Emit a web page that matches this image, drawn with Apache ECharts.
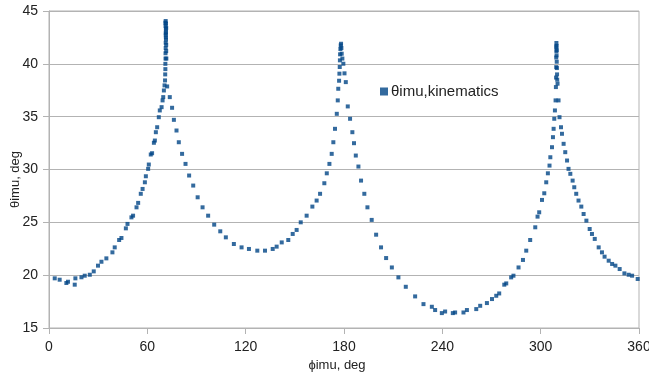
<!DOCTYPE html>
<html>
<head>
<meta charset="utf-8">
<script src="https://cdn.jsdelivr.net/npm/echarts@6/dist/echarts.min.js"></script>
<style>
  html, body { margin: 0; padding: 0; background: #fff; }
  #chart { width: 649px; height: 375px; }
</style>
</head>
<body>
<div id="chart"></div>
<script>
// phi (deg) and theta (deg), in path order
const phi = [
  3.5, 6.5, 10.6, 11.6, 15.7, 16.1, 19.8, 21.8, 24.9, 27.3, 29.9, 32.0, 35.0, 38.7, 40.1,
  42.8, 44.2, 46.9, 47.9, 50.3, 51.3, 53.4, 54.4, 56.0, 57.1, 58.5, 59.1, 60.5, 60.9, 62.1,
  62.9, 64.0, 64.6, 65.2, 66.0, 67.0, 67.6, 68.7, 69.3, 69.7, 70.1, 70.5, 70.8,
  70.9, 71.0, 71.0, 71.1, 71.1, 71.2, 71.2, 71.3, 71.2, 71.3, 71.1, 71.0, 71.2, 71.4, 71.5,
  71.4, 71.3, 71.4, 71.5, 71.5, 71.6,
  72.1, 73.7, 75.1, 76.2, 77.8, 79.2, 81.2, 83.3, 85.5, 88.0, 90.7, 93.7, 97.1, 100.8,
  104.5, 107.9, 112.8, 117.5, 122.0, 127.1, 131.8, 136.5, 138.9, 142.0, 146.0, 148.7,
  151.1, 153.6, 157.2, 160.7, 163.3, 165.4, 168.0, 169.5, 171.1, 172.5, 173.5, 174.5,
  175.6, 176.2, 176.5, 177.0, 177.2, 177.4, 177.5, 177.6, 177.8, 178.0, 178.2, 178.4,
  178.6, 179.0, 179.6, 180.3, 181.1, 182.3, 183.7, 185.1, 186.1, 187.2, 188.8, 190.4,
  192.4, 194.3, 196.9, 199.6, 202.6, 205.7, 209.2, 213.2, 217.7, 223.4, 228.5, 233.6,
  235.6, 239.7, 241.7, 246.4, 247.8, 252.9, 255.0, 260.7, 263.1, 267.2, 270.3, 272.9,
  274.7, 277.8, 279.0, 282.0, 283.4, 286.5, 289.2, 291.2, 293.6, 296.7, 298.1, 299.1,
  300.8, 302.2, 303.4, 304.4, 305.4, 305.9, 306.9, 307.5, 307.9, 308.3, 308.7, 309.1,
  309.3, 309.4, 309.5, 309.5, 309.6, 309.5, 309.6, 309.7, 309.8, 309.7, 309.8, 309.9,
  310.0, 310.1, 310.3, 310.9, 311.5, 312.4, 313.0, 314.0, 315.0, 316.1, 317.0, 318.1,
  319.5, 320.5, 321.7, 323.1, 324.8, 326.2, 327.9, 329.9, 331.3, 333.0, 335.4, 337.4,
  339.0, 341.5, 343.6, 345.6, 348.2, 351.1, 353.7, 355.8, 359.2
];
const theta = [
  19.7, 19.57, 19.26, 19.38, 19.1, 19.7, 19.8, 19.95, 20.04, 20.36, 20.9, 21.27, 21.59, 22.16, 22.63,
  23.33, 23.52, 24.43, 24.85, 25.47, 25.63, 26.42, 26.84, 27.7, 28.16, 28.79, 29.36, 30.06, 30.47, 31.42,
  31.54, 32.53, 32.74, 33.53, 34.0, 34.95, 35.59, 35.9, 36.54, 36.85, 37.48, 37.96, 38.43,
  39.0, 39.5, 40.0, 40.5, 41.0, 41.5, 42.0, 42.5, 42.9, 43.3, 43.6, 43.9, 44.05, 43.8, 43.4,
  43.0, 42.7, 42.3, 41.8, 41.2, 40.5,
  37.86, 36.85, 35.84, 34.7, 33.69, 32.58, 31.48, 30.53, 29.43, 28.48, 27.37, 26.42, 25.63, 24.78,
  24.15, 23.58, 22.95, 22.63, 22.48, 22.32, 22.32, 22.48, 22.7, 23.1, 23.33, 23.9,
  24.28, 25.0, 25.63, 26.49, 27.06, 27.7, 28.7, 29.64, 30.53, 31.48, 32.58, 33.85,
  35.27, 36.54, 37.64, 38.4, 39.07, 39.7, 40.33, 40.9, 41.4, 41.75, 41.9, 41.5,
  40.96, 40.5, 40.01, 39.1, 38.27, 35.97, 34.8, 33.53, 32.49, 31.32, 30.28, 28.95,
  27.7, 26.42, 25.23, 23.83, 22.63, 21.62, 20.73, 19.79, 18.9, 17.99, 17.26, 17.01,
  16.7, 16.41, 16.56, 16.41, 16.47, 16.47, 16.7, 16.79, 17.1, 17.36, 17.74, 18.05,
  18.27, 19.1, 19.22, 19.79, 19.95, 20.73, 21.44, 22.32, 23.33, 24.53, 25.54, 25.95,
  27.12, 27.75, 28.79, 29.64, 30.37, 31.16, 32.11, 33.06, 33.85, 34.8, 35.59, 36.54,
  37.8, 38.7, 39.69, 40.6, 41.2, 41.59, 41.97, 41.7, 41.3, 40.8, 40.2, 39.6,
  39.0, 38.5, 38.12, 36.54, 34.95, 34.0, 33.38, 32.43, 31.64, 30.85, 30.06, 29.59,
  28.95, 28.32, 27.7, 27.06, 26.49, 25.79, 25.16, 24.37, 23.9, 23.43, 22.63, 22.16,
  21.75, 21.37, 21.06, 20.9, 20.58, 20.17, 20.04, 19.95, 19.64
];
const xTicks = [0, 60, 120, 180, 240, 300, 360];
const yTicks = [15, 20, 25, 30, 35, 40, 45];
const seriesName = "θimu,kinematics";

const chart = echarts.init(document.getElementById("chart"), null, { renderer: "canvas" });
const font = "'Liberation Sans', Arial, sans-serif";
const gridColor = "#b3b3b3";
const textColor = "#222";

chart.setOption({
  animation: false,
  backgroundColor: "#fff",
  textStyle: { fontFamily: font },
  grid: {
    left: 49, right: 10, top: 11, bottom: 47,
    outerBoundsMode: "none", containLabel: false,
    show: true, borderColor: gridColor, borderWidth: 1
  },
  legend: {
    left: 375, top: 79,
    itemWidth: 8, itemHeight: 8, itemGap: 4,
    icon: "rect",
    textStyle: { fontSize: 15, color: textColor, fontFamily: font, padding: [0, 0, 0, -2] },
    data: [seriesName]
  },
  xAxis: {
    type: "value",
    min: xTicks[0], max: xTicks[xTicks.length - 1], interval: 60,
    name: "ϕimu, deg", nameLocation: "middle", nameGap: 31, nameMoveOverlap: false,
    nameTextStyle: { fontSize: 13, color: textColor, padding: [0, 14, 0, 0] },
    axisLine: { show: true, lineStyle: { color: gridColor } },
    axisTick: { show: true, length: 6, lineStyle: { color: gridColor } },
    axisLabel: { fontSize: 14, color: textColor, margin: 12 },
    splitLine: { show: false }
  },
  yAxis: {
    type: "value",
    min: yTicks[0], max: yTicks[yTicks.length - 1], interval: 5,
    name: "θimu, deg", nameLocation: "middle", nameGap: 27, nameMoveOverlap: false,
    nameTextStyle: { fontSize: 13, color: textColor, padding: [0, 20, 0, 0] },
    axisLine: { show: true, lineStyle: { color: gridColor } },
    axisTick: { show: true, length: 6, lineStyle: { color: gridColor } },
    axisLabel: { fontSize: 14, color: textColor, margin: 11 },
    splitLine: { show: true, lineStyle: { color: gridColor, width: 1 } }
  },
  series: [{
    name: seriesName,
    type: "scatter",
    symbol: "rect",
    symbolSize: 4,
    itemStyle: { color: "#004586" },
    data: phi.map((p, i) => [p, theta[i]])
  }]
});
</script>
</body>
</html>
